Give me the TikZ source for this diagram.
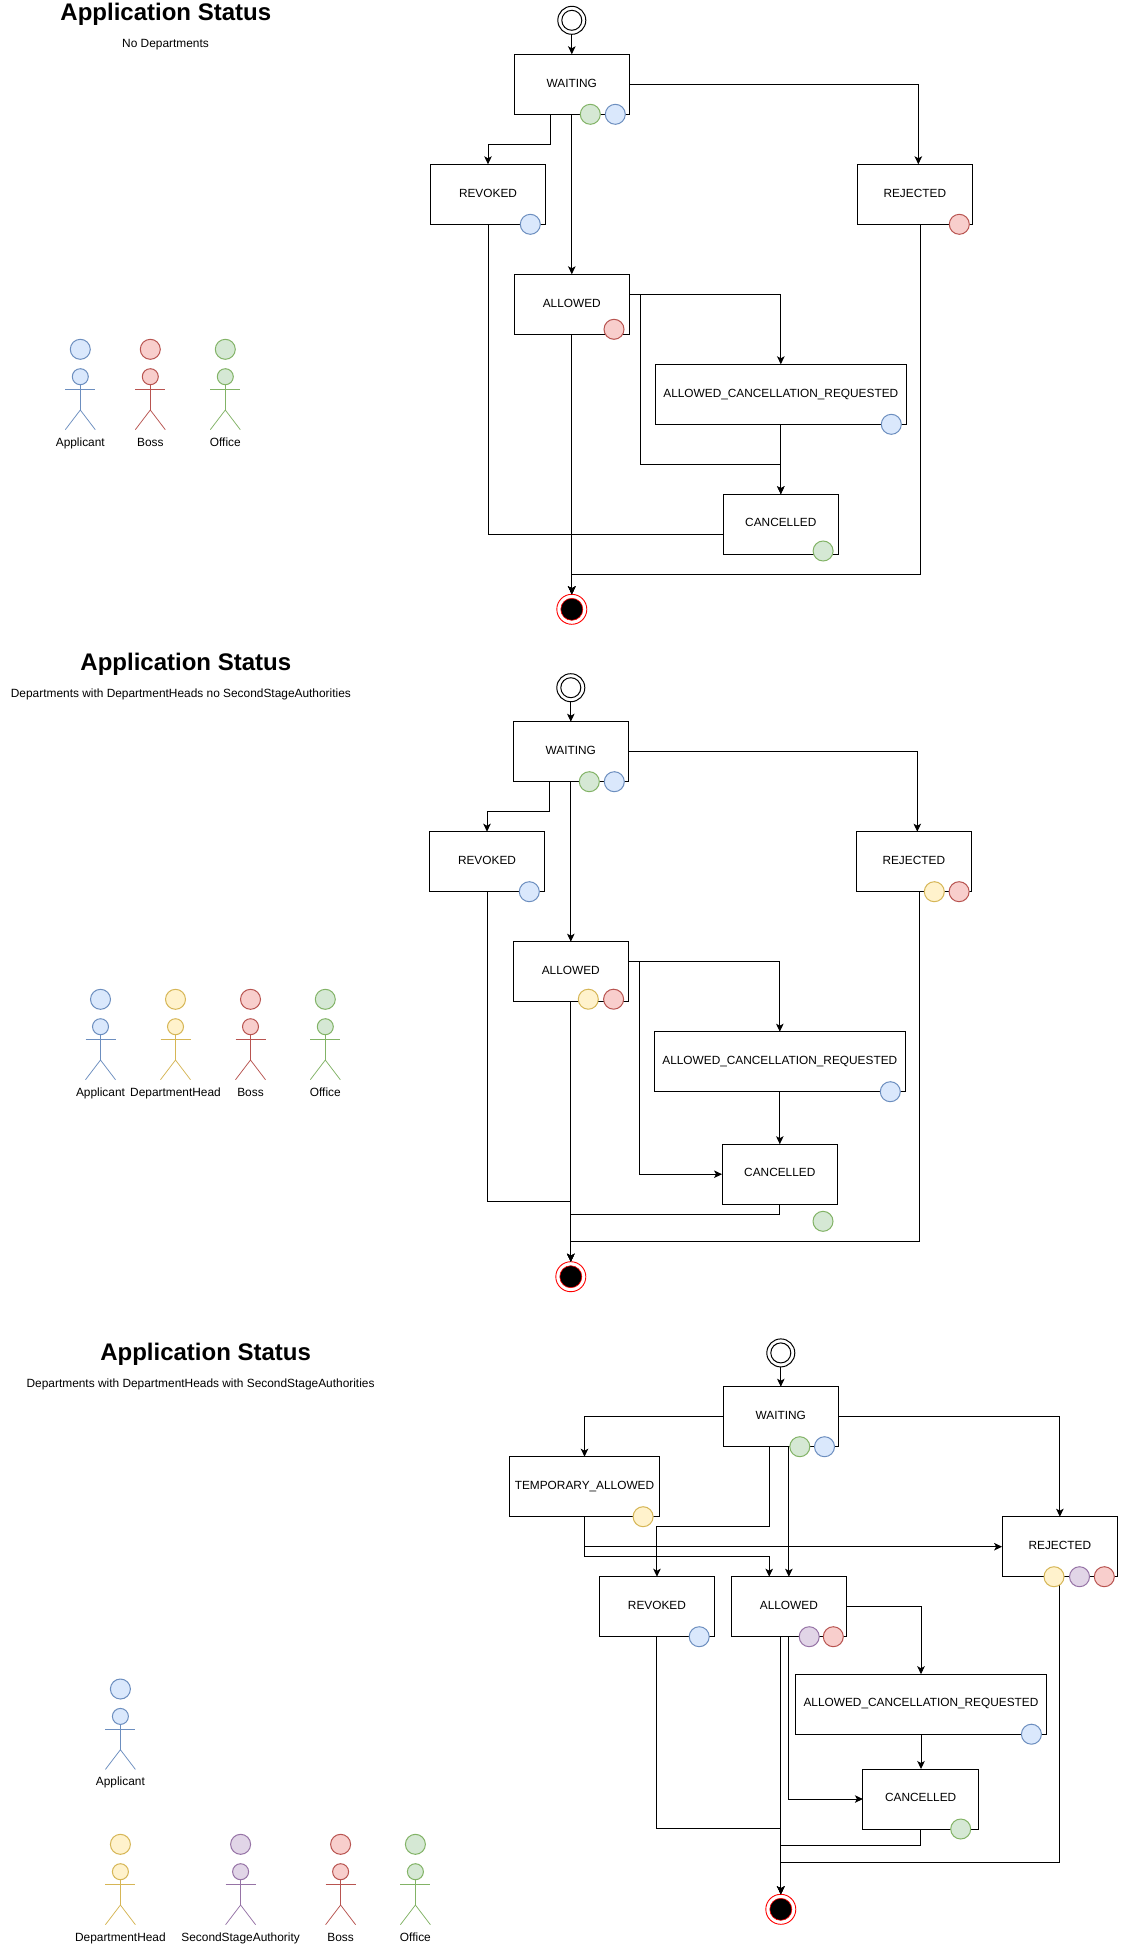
\documentclass[tikz,border=0pt]{standalone}
\usepackage{fontspec}
\setmainfont{Liberation Sans}
\usetikzlibrary{arrows.meta,calc}
\definecolor{bfill}{HTML}{DAE8FC}\definecolor{bline}{HTML}{6C8EBF}
\definecolor{yfill}{HTML}{FFF2CC}\definecolor{yline}{HTML}{D6B656}
\definecolor{rfill}{HTML}{F8CECC}\definecolor{rline}{HTML}{B85450}
\definecolor{gfill}{HTML}{D5E8D4}\definecolor{gline}{HTML}{82B366}
\definecolor{pfill}{HTML}{E1D5E7}\definecolor{pline}{HTML}{9673A6}
\tikzset{
  bluec/.style={draw=bline,fill=bfill},
  yelc/.style={draw=yline,fill=yfill},
  redc/.style={draw=rline,fill=rfill},
  grnc/.style={draw=gline,fill=gfill},
  purc/.style={draw=pline,fill=pfill},
  badge/.style={circle,minimum size=20pt,inner sep=0pt,outer sep=0pt,line width=1pt},
  statebox/.style={draw=black,rectangle,line width=1pt,minimum width=115.5pt,minimum height=60pt,
    inner sep=0pt,outer sep=0pt,font=\fontsize{11.85pt}{14pt}\selectfont,text height=8.6pt,text depth=3.2pt},
  conn/.style={draw=black,line width=1pt,-{Stealth[length=8pt,width=7.5pt,inset=2pt]}},
  titletext/.style={anchor=base,inner sep=0pt,font=\fontsize{24pt}{28pt}\selectfont\bfseries},
  subtext/.style={anchor=base,inner sep=0pt,font=\fontsize{11.9pt}{14pt}\selectfont},
  startouter/.style={circle,draw=black,line width=1pt,minimum size=28pt,inner sep=0pt,outer sep=0pt},
  startinner/.style={circle,draw=black,line width=1pt,minimum size=20pt,inner sep=0pt,outer sep=0pt},
  endouter/.style={circle,draw=red,line width=0.9pt,minimum size=30pt,inner sep=0pt,outer sep=0pt},
  endinner/.style={circle,draw=red,fill=black,line width=0.6pt,minimum size=22pt,inner sep=0pt,outer sep=0pt},
}
\newcommand{\badge}[4]{\node[badge,#4] (#1) at (#2,#3) {};}
\newcommand{\actorfig}[5]{%
  \begin{scope}[shift={(#2,#3)}]
    \node[badge,#4] (#1l) at (0,349.3) {};
    \node[badge,#4,minimum size=16pt] (#1h) at (0,376.7) {};
    \draw[#4,fill=none,line width=1pt] (#1h.south) -- (0,410) (-15,389.3) -- (15,389.3);
    \draw[#4,fill=none,line width=0.75pt] (-15,429.7) -- (0,410) -- (15,429.7);
    \node[subtext] (#1t) at (0,446.1) {#5};
  \end{scope}}
\begin{document}
\begin{tikzpicture}[x=1pt,y=-1pt]
\useasboundingbox (0,0) rectangle (1143,1946);
\fill[white] (0,0) rectangle (1143,1946);

% ---------- block 1
\node[titletext] (t1) at (165.8,20) {Application Status};
\node[subtext] (s1) at (165.5,47) {No Departments};
\node[startouter] (st1) at (571.8,20.3) {};
\node[startinner] (sti1) at (571.8,20.3) {};
\node[statebox] (w1) at (571.8,84.3) {WAITING};
\node[statebox] (r1) at (488,194.3) {REVOKED};
\node[statebox] (rj1) at (914.8,194.3) {REJECTED};
\node[statebox] (a1) at (571.8,304.3) {ALLOWED};
\node[statebox,minimum width=250.4pt] (q1) at (780.8,394.3) {ALLOWED\_CANCELLATION\_REQUESTED};
\node[statebox] (c1) at (780.8,524.2) {CANCELLED};
\node[endouter] (e1) at (571.8,609.3) {};
\node[endinner] (ei1) at (571.8,609.3) {};
\coordinate (j1a) at (520,144.2);
\coordinate (j1b) at (571.8,534);
\coordinate (j1c) at (640.8,464);
\coordinate (j1d) at (571.8,574.2);
\draw[conn] (st1.south) -- (w1.north);
\draw[conn] ([xshift=-21.8pt]w1.south) |- (j1a) -| (r1.north);
\draw[conn] (w1.south) -- (a1.north);
\draw[conn] (w1.east) -| ([xshift=3.5pt]rj1.north);
\draw[conn] ([yshift=10.2pt]a1.east) -| (q1.north);
\draw[conn] ([yshift=10.2pt]a1.east) -| (j1c) -| (c1.north);
\draw[conn] (q1.south) -- (c1.north);
\draw[conn] (a1.south) -- (e1.north);
\draw[conn] (r1.south) |- (j1b) -- (e1.north);
\draw[conn] ([yshift=-9.8pt]c1.west) -- (j1b) -- (e1.north);
\draw[conn] ([xshift=5.5pt]rj1.south) |- (j1d) -- (e1.north);
\badge{b1a}{590.3}{114.3}{grnc}
\badge{b1b}{615.3}{114.3}{bluec}
\badge{b1c}{530.3}{224.3}{bluec}
\badge{b1d}{959.3}{224.3}{redc}
\badge{b1e}{614}{329.3}{redc}
\badge{b1f}{891.3}{424.3}{bluec}
\badge{b1g}{823.1}{551}{grnc}
\actorfig{p1a}{80.3}{0}{bluec}{Applicant}
\actorfig{p1b}{150.3}{0}{redc}{Boss}
\actorfig{p1c}{225.3}{0}{grnc}{Office}

% ---------- block 2
\node[titletext] (t2) at (185.8,670) {Application Status};
\node[subtext] (s2) at (180.9,697.4) {Departments with DepartmentHeads no SecondStageAuthorities};
\actorfig{p2a}{100.5}{650}{bluec}{Applicant}
\actorfig{p2b}{175.5}{650}{yelc}{DepartmentHead}
\actorfig{p2c}{250.5}{650}{redc}{Boss}
\actorfig{p2d}{325.3}{650}{grnc}{Office}
\begin{scope}[shift={(-1,667.4)}]
\node[startouter] (st2) at (571.8,20.3) {};
\node[startinner] (sti2) at (571.8,20.3) {};
\node[statebox] (w2) at (571.8,84.3) {WAITING};
\node[statebox] (r2) at (488,194.3) {REVOKED};
\node[statebox] (rj2) at (914.8,194.3) {REJECTED};
\node[statebox] (a2) at (571.8,304.3) {ALLOWED};
\node[statebox,minimum width=250.4pt] (q2) at (780.8,394.3) {ALLOWED\_CANCELLATION\_REQUESTED};
\node[statebox] (c2) at (780.8,506.8) {CANCELLED};
\node[endouter] (e2) at (571.8,609.3) {};
\node[endinner] (ei2) at (571.8,609.3) {};
\coordinate (j2a) at (520,144.2);
\coordinate (j2b) at (571.8,534);
\coordinate (j2c) at (640.8,506.8);
\coordinate (j2d) at (571.8,574);
\coordinate (j2e) at (571.8,546.8);
\draw[conn] (st2.south) -- (w2.north);
\draw[conn] ([xshift=-21.8pt]w2.south) |- (j2a) -| (r2.north);
\draw[conn] (w2.south) -- (a2.north);
\draw[conn] (w2.east) -| ([xshift=3.5pt]rj2.north);
\draw[conn] ([yshift=10.2pt]a2.east) -| (q2.north);
\draw[conn] ([yshift=10.2pt]a2.east) -| (j2c) -- (c2.west);
\draw[conn] (q2.south) -- (c2.north);
\draw[conn] (a2.south) -- (e2.north);
\draw[conn] (r2.south) |- (j2b) -- (e2.north);
\draw[conn] (c2.south) |- (j2e) -- (e2.north);
\draw[conn] ([xshift=5.5pt]rj2.south) |- (j2d) -- (e2.north);
\badge{b2a}{590.3}{114.3}{grnc}
\badge{b2b}{615.3}{114.3}{bluec}
\badge{b2c}{530.3}{224.3}{bluec}
\badge{b2d}{935.3}{224.3}{yelc}
\badge{b2e}{960.1}{224.3}{redc}
\badge{b2f}{589.3}{331.8}{yelc}
\badge{b2g}{614.6}{331.8}{redc}
\badge{b2h}{891.3}{424.3}{bluec}
\badge{b2i}{824}{553.9}{grnc}
\end{scope}

% ---------- block 3
\node[titletext] (t3) at (205.6,1360) {Application Status};
\node[subtext] (s3) at (200.6,1387.4) {Departments with DepartmentHeads with SecondStageAuthorities};
\actorfig{p3a}{120.4}{1339.7}{bluec}{Applicant}
\actorfig{p3b}{120.4}{1495}{yelc}{DepartmentHead}
\actorfig{p3c}{240.6}{1495}{purc}{SecondStageAuthority}
\actorfig{p3d}{340.6}{1495}{redc}{Boss}
\actorfig{p3e}{415.4}{1495}{grnc}{Office}
\begin{scope}[shift={(0.6,0)}]
\node[startouter] (st3) at (780.2,1352.9) {};
\node[startinner] (sti3) at (780.2,1352.9) {};
\node[statebox] (w3) at (780.2,1416.7) {WAITING};
\node[statebox,minimum width=149.6pt] (tm3) at (583.9,1486.7) {TEMPORARY\_ALLOWED};
\node[statebox] (rj3) at (1059.25,1546.7) {REJECTED};
\node[statebox] (r3) at (656.35,1606.7) {REVOKED};
\node[statebox] (a3) at (788.25,1606.7) {ALLOWED};
\node[statebox,minimum width=250.4pt] (q3) at (920.4,1704.2) {ALLOWED\_CANCELLATION\_REQUESTED};
\node[statebox] (c3) at (920.05,1799) {CANCELLED};
\node[endouter] (e3) at (780.2,1909.3) {};
\node[endinner] (ei3) at (780.2,1909.3) {};
\coordinate (j3a) at (700,1526.4);
\coordinate (j3b) at (768.6,1556.5);
\coordinate (j3c) at (780.2,1828.2);
\coordinate (j3d) at (788.25,1799);
\coordinate (j3e) at (780.2,1845.9);
\coordinate (j3f) at (780.2,1862);
\draw[conn] (st3.south) -- (w3.north);
\draw[conn] (w3.west) -| (tm3.north);
\draw[conn] (w3.east) -| (rj3.north);
\draw[conn] ([xshift=-11.6pt]w3.south) |- (j3a) -| (r3.north);
\draw[conn] ([xshift=8.05pt]w3.south) -- (a3.north);
\draw[conn] (tm3.south) |- (rj3.west);
\draw[conn] (tm3.south) |- (j3b) -- ([xshift=-19.65pt]a3.north);
\draw[conn] (r3.south) |- (j3c) -- (e3.north);
\draw[conn] ([xshift=-8.05pt]a3.south) -- (e3.north);
\draw[conn] (a3.south) -- (j3d) -- (c3.west);
\draw[conn] (a3.east) -| (q3.north);
\draw[conn] (q3.south) -- ([xshift=0.35pt]c3.north);
\draw[conn] (c3.south) |- (j3e) -- (e3.north);
\draw[conn] (rj3.south) |- (j3f) -- (e3.north);
\badge{b3a}{799.2}{1446.7}{grnc}
\badge{b3b}{823.9}{1446.7}{bluec}
\badge{b3c}{642.5}{1516.7}{yelc}
\badge{b3d}{1053.4}{1576.7}{yelc}
\badge{b3e}{1078.9}{1576.7}{purc}
\badge{b3f}{1103.7}{1576.7}{redc}
\badge{b3g}{698.6}{1636.7}{bluec}
\badge{b3h}{808.6}{1636.7}{purc}
\badge{b3i}{832.7}{1636.7}{redc}
\badge{b3j}{1030.8}{1734.2}{bluec}
\badge{b3k}{960.1}{1829}{grnc}
\end{scope}
\end{tikzpicture}
\end{document}
